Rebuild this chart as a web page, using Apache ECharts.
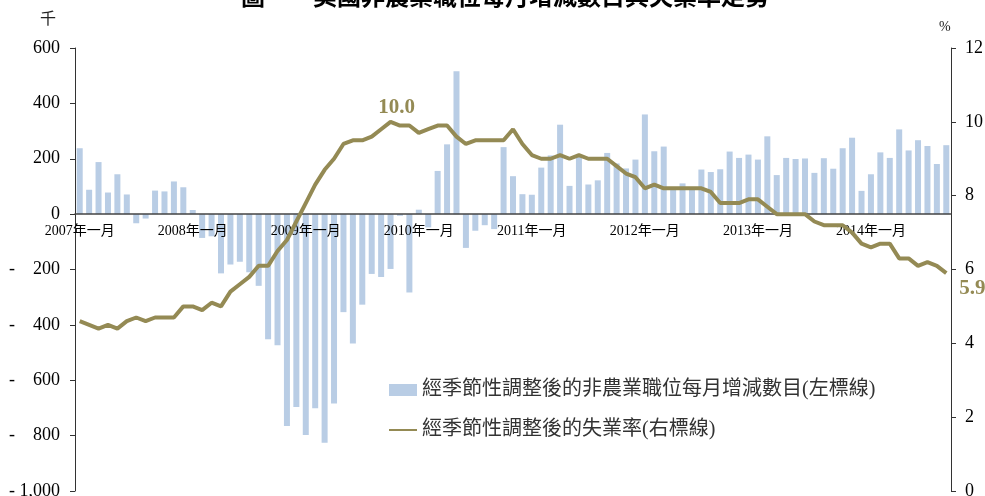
<!DOCTYPE html>
<html>
<head>
<meta charset="utf-8">
<script src="https://cdn.jsdelivr.net/npm/echarts@6/dist/echarts.min.js"></script>
<style>
  html, body { margin: 0; padding: 0; background: #fff; }
  #box { width: 985px; height: 496px; }
</style>
</head>
<body>
<div id="box"></div>
<script>
// 年份与月份（类目轴）
const aYears = [2007, 2008, 2009, 2010, 2011, 2012, 2013, 2014];
const aMonthNames = ['一月', '二月', '三月', '四月', '五月', '六月', '七月', '八月', '九月', '十月', '十一月', '十二月'];
const iMonthCount = 93; // 2007年一月 ~ 2014年九月

// 非農業職位每月增減（千）
const aJobs2007 = [238, 88, 188, 78, 144, 71, -33, -16, 85, 82, 118, 97];
const aJobs2008 = [15, -86, -80, -214, -182, -172, -210, -259, -452, -474, -765, -697];
const aJobs2009 = [-798, -701, -826, -684, -354, -467, -327, -216, -227, -198, -6, -283];
const aJobs2010 = [16, -48, 156, 252, 516, -122, -60, -40, -54, 242, 137, 72];
const aJobs2011 = [70, 168, 212, 323, 102, 208, 107, 122, 221, 183, 165, 197];
const aJobs2012 = [360, 227, 244, 96, 111, 88, 161, 152, 162, 226, 203, 215];
const aJobs2013 = [197, 281, 141, 203, 199, 201, 149, 202, 164, 238, 276, 84];
const aJobs2014 = [144, 223, 203, 306, 230, 267, 246, 181, 249];

// 失業率（%）
const aRate2007 = [4.6, 4.5, 4.4, 4.5, 4.4, 4.6, 4.7, 4.6, 4.7, 4.7, 4.7, 5.0];
const aRate2008 = [5.0, 4.9, 5.1, 5.0, 5.4, 5.6, 5.8, 6.1, 6.1, 6.5, 6.8, 7.3];
const aRate2009 = [7.8, 8.3, 8.7, 9.0, 9.4, 9.5, 9.5, 9.6, 9.8, 10.0, 9.9, 9.9];
const aRate2010 = [9.7, 9.8, 9.9, 9.9, 9.6, 9.4, 9.5, 9.5, 9.5, 9.5, 9.8, 9.4];
const aRate2011 = [9.1, 9.0, 9.0, 9.1, 9.0, 9.1, 9.0, 9.0, 9.0, 8.8, 8.6, 8.5];
const aRate2012 = [8.2, 8.3, 8.2, 8.2, 8.2, 8.2, 8.2, 8.1, 7.8, 7.8, 7.8, 7.9];
const aRate2013 = [7.9, 7.7, 7.5, 7.5, 7.5, 7.5, 7.3, 7.2, 7.2, 7.2, 7.0, 6.7];
const aRate2014 = [6.6, 6.7, 6.7, 6.3, 6.3, 6.1, 6.2, 6.1, 5.9];

const aJobs = [].concat(aJobs2007, aJobs2008, aJobs2009, aJobs2010, aJobs2011, aJobs2012, aJobs2013, aJobs2014);
const aRate = [].concat(aRate2007, aRate2008, aRate2009, aRate2010, aRate2011, aRate2012, aRate2013, aRate2014);

const aCategories = [];
aYears.forEach(iYear => {
    aMonthNames.forEach(sMonth => {
        if (aCategories.length < iMonthCount) aCategories.push(`${iYear}年${sMonth}`);
    });
});

const sBarColor = '#b9cde5';
const sLineColor = '#948a54';
const sFont = "'Liberation Serif', 'Noto Sans CJK TC', serif";
const iPeakIdx = aRate.indexOf(Math.max(...aRate));
const iLastIdx = aRate.length - 1;

// 只在峰值和最后一点显示数值
const aRateData = aRate.map((val, idx) => {
    if (idx === iPeakIdx) {
        return { value: val, label: { show: true, position: 'top', distance: 4, offset: [6, 0], formatter: v => v.value.toFixed(1) } };
    }
    if (idx === iLastIdx) {
        return { value: val, label: { show: true, position: 'right', distance: 13, offset: [0, 15], formatter: v => v.value.toFixed(1) } };
    }
    return val;
});

// 网格：上 48，下 5；x 轴移到左轴 0 的位置
const iGridTop = 48, iGridBottom = 5, iHeight = 496;
const iPlotH = iHeight - iGridTop - iGridBottom;
const iZeroY = iGridTop + iPlotH * 600 / 1600;
const iXOffset = -((iHeight - iGridBottom) - iZeroY);

const myChart = echarts.init(document.getElementById('box'));

const option = {
    animation: false,
    textStyle: { fontFamily: sFont },
    title: {
        text: '圖一　美國非農業職位每月增減數目與失業率走勢',
        left: 236,
        top: -18,
        textStyle: { fontSize: 24, fontWeight: 'bold', color: '#000', fontFamily: sFont },
    },
    grid: { left: 75, right: 34, top: iGridTop, bottom: iGridBottom, containLabel: false, outerBoundsMode: 'none' },
    legend: {
        orient: 'vertical',
        left: 383,
        top: 375,
        itemWidth: 28,
        itemHeight: 12,
        itemGap: 20,
        textStyle: { fontSize: 20, color: '#333', fontFamily: sFont },
        data: [
            { name: '經季節性調整後的非農業職位每月增減數目(左標線)', icon: 'rect' },
            { name: '經季節性調整後的失業率(右標線)', itemStyle: { opacity: 0 } },
        ],
    },
    xAxis: [{
        type: 'category',
        data: aCategories,
        z: 3,
        offset: iXOffset,
        axisLine: { onZero: false, lineStyle: { color: '#444', width: 1.5 } },
        axisTick: { interval: 0, inside: true, length: 3, lineStyle: { color: '#444' } },
        axisLabel: {
            interval: idx => idx % 12 === 0,
            margin: 10,
            fontSize: 14,
            color: '#000',
        },
        splitLine: { show: false },
    }, {
        type: 'category',
        data: aCategories,
        z: 3,
        offset: iXOffset,
        axisLine: { show: false, onZero: false },
        axisTick: { interval: idx => idx % 12 === 0, inside: false, length: 4, lineStyle: { color: '#444', width: 1.5 } },
        axisLabel: { show: false },
        splitLine: { show: false },
    }],
    yAxis: [{
        type: 'value',
        min: -1000,
        max: 600,
        interval: 200,
        axisLine: { show: true, lineStyle: { color: '#333' } },
        axisTick: { show: true, length: 5, lineStyle: { color: '#333' } },
        splitLine: { show: false },
        axisLabel: {
            margin: 15,
            fontSize: 18,
            color: '#000',
            formatter: v => {
                if (v >= 0) return String(v);
                return `{m|-}{n|${Math.abs(v).toLocaleString('en-US')}}`;
            },
            rich: {
                m: { width: 7, align: 'left', fontSize: 18, fontFamily: sFont, color: '#000' },
                n: { width: 44, align: 'right', fontSize: 18, fontFamily: sFont, color: '#000' },
            },
        },
    }, {
        type: 'value',
        min: 0,
        max: 12,
        interval: 2,
        position: 'right',
        axisLine: { show: true, lineStyle: { color: '#333' } },
        axisTick: { show: true, length: 5, lineStyle: { color: '#333' } },
        splitLine: { show: false },
        axisLabel: { margin: 14, fontSize: 18, color: '#000' },
    }],
    graphic: [
        { type: 'text', left: 40, top: 12, style: { text: '千', fontSize: 16, fill: '#222', fontFamily: sFont } },
        { type: 'text', left: 939, top: 20, style: { text: '%', fontSize: 14, fill: '#222', fontFamily: sFont } },
    ],
    series: [{
        name: '經季節性調整後的非農業職位每月增減數目(左標線)',
        type: 'bar',
        xAxisIndex: 0,
        yAxisIndex: 0,
        barWidth: 6,
        itemStyle: { color: sBarColor },
        z: 2,
        data: aJobs,
    }, {
        name: '經季節性調整後的失業率(右標線)',
        type: 'line',
        xAxisIndex: 0,
        yAxisIndex: 1,
        symbol: 'circle',
        symbolSize: 0,
        showSymbol: true,
        showAllSymbol: true,
        z: 5,
        lineStyle: { color: sLineColor, width: 4 },
        itemStyle: { color: sLineColor },
        label: { color: sLineColor, fontSize: 21, fontWeight: 'bold', fontFamily: sFont },
        data: aRateData,
    }],
};

myChart.setOption(option);
</script>
</body>
</html>
